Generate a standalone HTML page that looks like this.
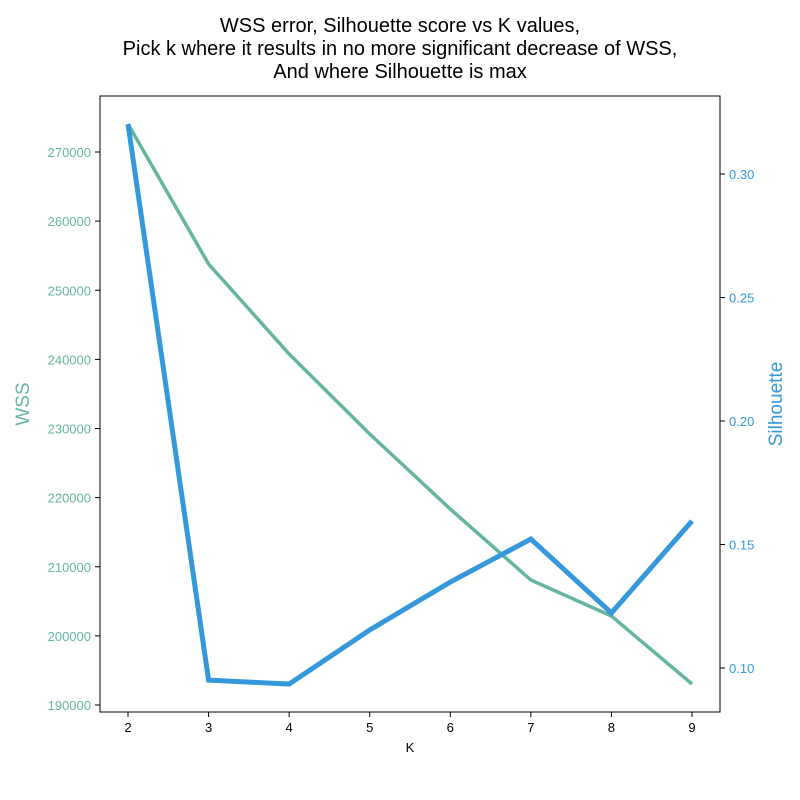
<!DOCTYPE html>
<html><head><meta charset="utf-8"><style>
body{margin:0;background:#fff;}
svg{display:block;font-family:"Liberation Sans","DejaVu Sans",sans-serif;}
</style></head><body>
<svg id="chart" width="800" height="800">
<text x="400" y="32" text-anchor="middle" font-size="20">WSS error, Silhouette score vs K values,</text>
<text x="400" y="55" text-anchor="middle" font-size="20">Pick k where it results in no more significant decrease of WSS,</text>
<text x="400" y="78" text-anchor="middle" font-size="20">And where Silhouette is max</text>
<g id="g"></g>
<rect x="100" y="96" width="620" height="616" fill="none" stroke="#000" stroke-width="1"/>
<text x="410" y="752" text-anchor="middle" font-size="13">K</text>
<text transform="translate(29,404) rotate(-90)" text-anchor="middle" font-size="19" fill="#66b5a2">WSS</text>
<text transform="translate(782,404) rotate(-90)" text-anchor="middle" font-size="19" fill="#3498db">Silhouette</text>
</svg>
<script>
const kValues=[2,3,4,5,6,7,8,9];
const wssValues=[274050,253800,240780,229200,218350,208080,202870,193040];
const silValues=[0.3202,0.0951,0.0935,0.1154,0.1348,0.1522,0.1223,0.1595];
const wssTicks=[190000,200000,210000,220000,230000,240000,250000,260000,270000];
const silTicks=[0.10,0.15,0.20,0.25,0.30];
const xTicks=[2,3,4,5,6,7,8,9];

const NS="http://www.w3.org/2000/svg";
const g=document.getElementById('g');
const xS=k=>128+(k-2)*(564/7);
const yL=v=>152+(270000-v)*(553/80000);
const yR=v=>174+(0.30-v)*(494/0.2);
function mk(t,a){const e=document.createElementNS(NS,t);for(const k in a)e.setAttribute(k,a[k]);g.appendChild(e);return e;}
xTicks.forEach(k=>{
 const l=mk('line',{x1:xS(k),x2:xS(k),y1:712,y2:717,stroke:'#000'});
 
 
 const t=mk('text',{x:xS(k),y:732,'text-anchor':'middle','font-size':13});t.textContent=k;
 
 
});
wssTicks.forEach(v=>{
 const l=mk('line',{x1:95,x2:100,y1:yL(v),y2:yL(v),stroke:'#000'});
 
 
 const t=mk('text',{x:91,y:yL(v)+5,'text-anchor':'end','font-size':13,fill:'#66b5a2'});t.textContent=v;
 
 
});
silTicks.forEach(v=>{
 const l=mk('line',{x1:720,x2:725,y1:yR(v),y2:yR(v),stroke:'#000'});
 
 
 const t=mk('text',{x:729,y:yR(v)+5,'text-anchor':'start','font-size':13,fill:'#3498db'});t.textContent=v.toFixed(2);
 
 
});
const p1=mk('polyline',{points:kValues.map((k,i)=>xS(k)+','+yL(wssValues[i])).join(' '),fill:'none',stroke:'#66b5a2','stroke-width':3.5});


const p2=mk('polyline',{points:kValues.map((k,i)=>xS(k)+','+yR(silValues[i])).join(' '),fill:'none',stroke:'#3498db','stroke-width':5});


</script>
</body></html>
